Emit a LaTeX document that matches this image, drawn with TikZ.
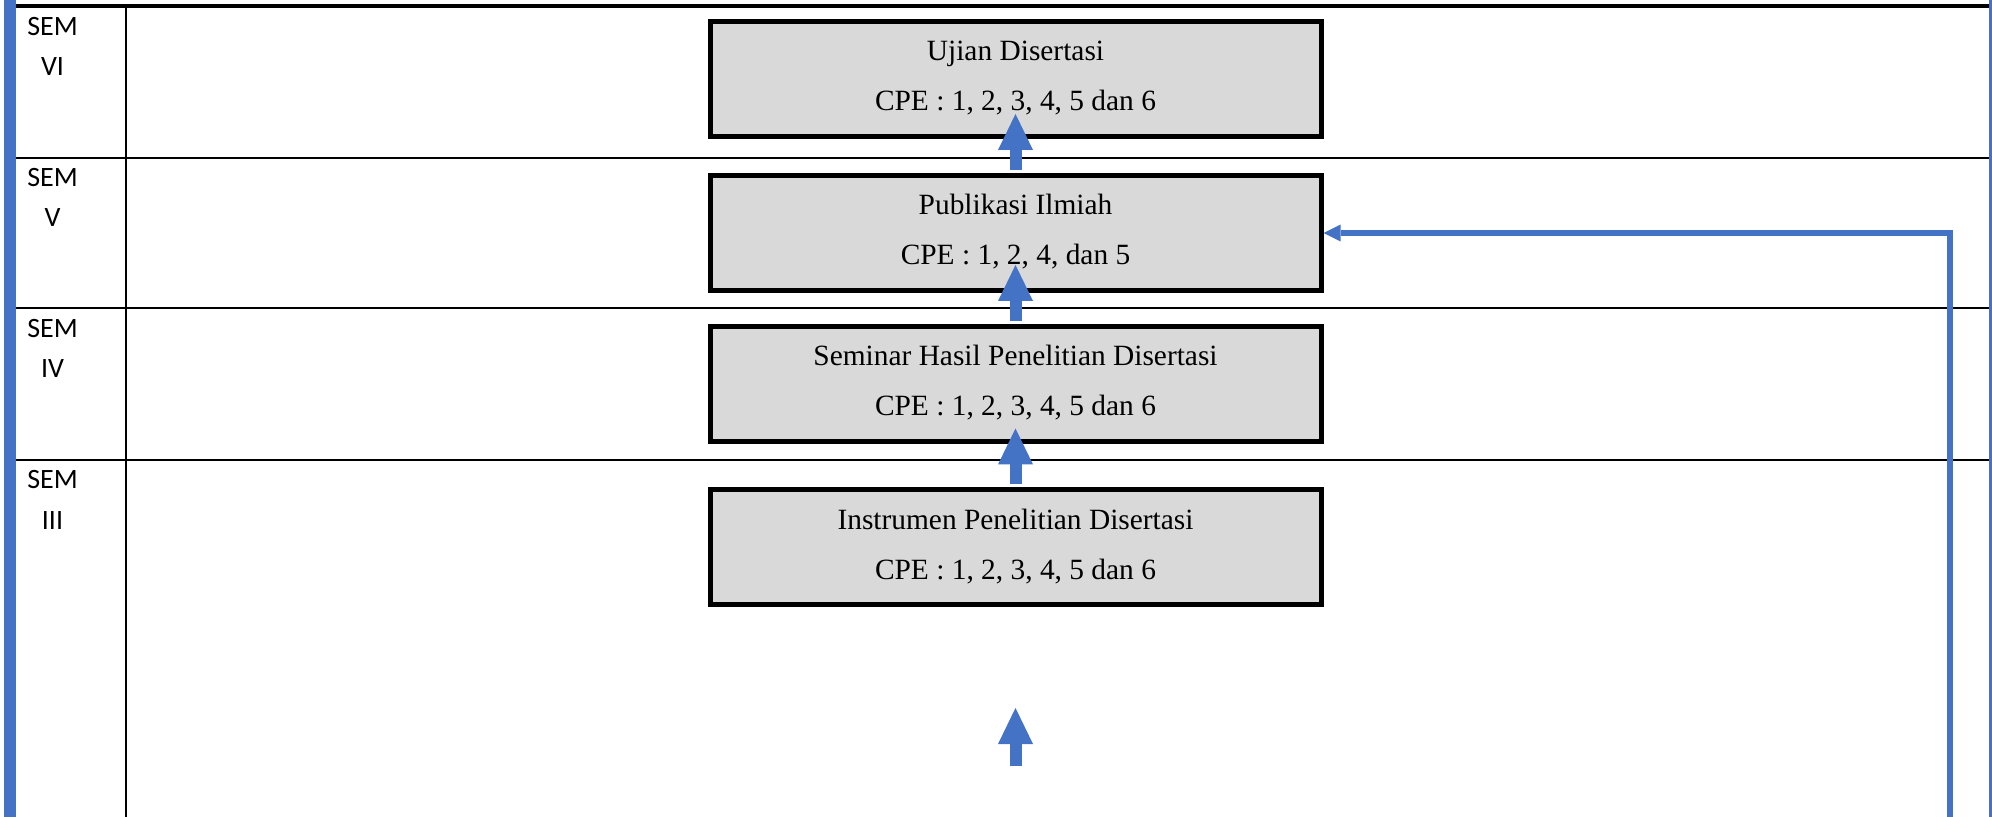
\documentclass[tikz,border=0pt]{standalone}
\usepackage{fontspec}
\setmainfont{Liberation Serif}
\newfontfamily\calib{Carlito}
\usetikzlibrary{arrows.meta}
\definecolor{wordblue}{HTML}{4472C4}
\definecolor{boxgray}{HTML}{D9D9D9}
\tikzset{
  box/.style={draw=black, line width=2.5pt, fill=boxgray, minimum width=305.5pt, minimum height=57.5pt, inner sep=0pt},
  txt/.style={anchor=base, font=\fontsize{14.7}{17}\selectfont, inner sep=0pt},
  semlbl/.style={anchor=base, font=\calib\fontsize{14}{17}\selectfont, inner sep=0pt},
  blockarrow/.style={draw=wordblue, line width=6pt, -{Triangle[width=17.5pt,length=18pt,line width=0pt]}},
  elbow/.style={draw=wordblue, line width=2.75pt, line join=miter, -{Triangle[width=8.5pt,length=8.5pt,line width=0pt]}},
  gridthin/.style={draw=black, line width=1.2pt},
  gridthick/.style={draw=black, line width=2pt},
  sidebar/.style={fill=wordblue}
}
\begin{document}
\begin{tikzpicture}[x=0.5pt,y=-0.5pt]
\useasboundingbox (0,0) rectangle (1992,817);
% side bars
\fill[sidebar] (4,0) rectangle (16,817);
\fill[sidebar] (1989,0) rectangle (1992,817);
% table grid
\draw[gridthick] (16,6) -- (1989,6);
\draw[gridthin] (16,158) -- (1989,158);
\draw[gridthin] (16,308.3) -- (1989,308.3);
\draw[gridthin] (16,460) -- (1989,460);
\draw[gridthin] (126,6) -- (126,817);
% semester labels
\node[semlbl] (s6a) at (52.5,36) {SEM};
\node[semlbl] (s6b) at (52.5,76) {VI};
\node[semlbl] (s5a) at (52.5,186.5) {SEM};
\node[semlbl] (s5b) at (52.5,227) {V};
\node[semlbl] (s4a) at (52.5,337.5) {SEM};
\node[semlbl] (s4b) at (52.5,378) {IV};
\node[semlbl] (s3a) at (52.5,489) {SEM};
\node[semlbl] (s3b) at (52.5,530) {III};
% boxes
\node[box] (b1) at (1015.5,78.75) {};
\node[box] (b2) at (1015.5,233) {};
\node[box] (b3) at (1015.5,384) {};
\node[box] (b4) at (1015.5,547.5) {};
% box texts
\node[txt] (t1a) at (1015.5,60.75) {Ujian Disertasi};
\node[txt] (t1b) at (1015.5,110.75) {CPE : 1, 2, 3, 4, 5 dan 6};
\node[txt] (t2a) at (1015.5,215) {Publikasi Ilmiah};
\node[txt] (t2b) at (1015.5,265) {CPE : 1, 2, 4, dan 5};
\node[txt] (t3a) at (1015.5,366) {Seminar Hasil Penelitian Disertasi};
\node[txt] (t3b) at (1015.5,416) {CPE : 1, 2, 3, 4, 5 dan 6};
\node[txt] (t4a) at (1015.5,529.5) {Instrumen Penelitian Disertasi};
\node[txt] (t4b) at (1015.5,579.5) {CPE : 1, 2, 3, 4, 5 dan 6};
% block arrows
\coordinate (a1tip) at ([yshift=29.5pt]b2.north);
\coordinate (a2tip) at ([yshift=29.5pt]b3.north);
\coordinate (a3tip) at ([yshift=29.5pt]b4.north);
\coordinate (a4base) at (1015.5,766);
\coordinate (a4tip) at (1015.5,708);
\draw[blockarrow] ([yshift=1.5pt]b2.north) -- (a1tip);
\draw[blockarrow] ([yshift=1.5pt]b3.north) -- (a2tip);
\draw[blockarrow] ([yshift=1.5pt]b4.north) -- (a3tip);
\draw[blockarrow] (a4base) -- (a4tip);
% elbow connector
\coordinate (ebot) at (1950,820);
\draw[elbow] (ebot) |- (b2.east);
\end{tikzpicture}
\end{document}
